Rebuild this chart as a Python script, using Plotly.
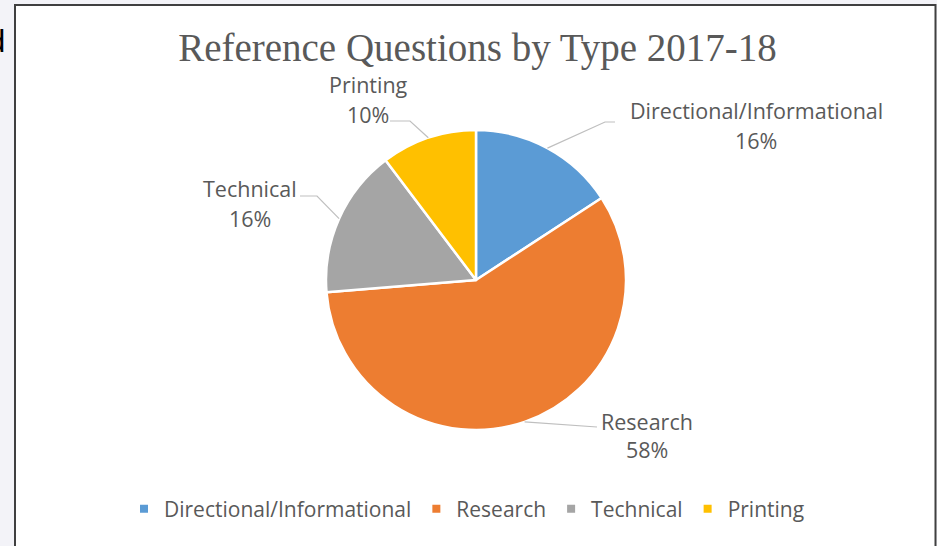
import math
import plotly.graph_objects as go

# ---- data ----
categories = ["Directional/Informational", "Research", "Technical", "Printing"]
values = [15.8, 57.9, 16.0, 10.3]
colors = ["#5B9BD5", "#ED7D31", "#A5A5A5", "#FFC000"]
title_text = "Reference Questions by Type 2017-18"

# ---- layout (pixels) ----
W, H = 937, 546
PIE_CX, PIE_CY, PIE_R = 476, 280, 150
# centre of the (name, percent) label lines
LABEL_POS = {
    "Directional/Informational": ((756, 111), (756, 141)),
    "Research": ((647, 421), (647, 449)),
    "Technical": ((250, 188), (250, 218)),
    "Printing": ((368, 84), (368, 114)),
}
# leader: elbow point, then end point next to the label
LEADER = {
    "Directional/Informational": ((605, 122), (615, 122)),
    "Research": ((597, 427), (597, 427)),
    "Technical": ((317, 196), (300, 196)),
    "Printing": ((410, 121), (390, 121)),
}
TEXT_COLOR = "#595959"
FONT = "Open Sans"
BG = "#f3f3f8"


def px(x):
    return x / W


def py(y):
    return 1 - y / H


fig = go.Figure()
fig.add_trace(go.Pie(
    labels=categories,
    values=values,
    sort=False,
    direction="clockwise",
    rotation=0,
    marker=dict(colors=colors, line=dict(color="white", width=2.5)),
    textinfo="none",
    hoverinfo="label+percent",
    showlegend=False,
    domain=dict(x=[px(PIE_CX - PIE_R), px(PIE_CX + PIE_R)],
                y=[py(PIE_CY + PIE_R), py(PIE_CY - PIE_R)]),
))

# legend entries (small square markers like the original)
for cat, col in zip(categories, colors):
    fig.add_trace(go.Scatter(
        x=[None], y=[None], mode="markers", name=cat,
        marker=dict(symbol="square", size=8, color=col),
        hoverinfo="skip",
    ))

total = sum(values)
shapes = [
    dict(type="rect", xref="paper", yref="paper",
         x0=px(15), x1=px(935.5), y0=py(560), y1=py(5),
         line=dict(color="#404040", width=2), fillcolor="white", layer="below"),
]
annotations = []
cum = 0.0
for cat, v in zip(categories, values):
    theta = (cum + v / 2) / total * 2 * math.pi
    cum += v
    ax = PIE_CX + PIE_R * math.sin(theta)
    ay = PIE_CY - PIE_R * math.cos(theta)
    (ex, ey), (tx, ty) = LEADER[cat]
    shapes.append(dict(
        type="path", xref="paper", yref="paper",
        path=f"M {px(ax)} {py(ay)} L {px(ex)} {py(ey)} L {px(tx)} {py(ty)}",
        line=dict(color="#bfbfbf", width=1.2), layer="above",
    ))
    (nx, ny), (qx, qy) = LABEL_POS[cat]
    pct = round(v / total * 100)
    for txt, (x, y) in ((cat, (nx, ny)), (f"{pct}%", (qx, qy))):
        annotations.append(dict(
            xref="paper", yref="paper", x=px(x), y=py(y),
            text=txt, showarrow=False, align="center",
            xanchor="center", yanchor="middle",
            font=dict(family=FONT, size=21.5, color=TEXT_COLOR),
        ))

# fragment of surrounding page text at the far left
annotations.append(dict(
    xref="paper", yref="paper", x=px(7), y=py(42), text="d",
    showarrow=False, xanchor="right", yanchor="middle",
    font=dict(family="Liberation Sans", size=31, color="#000000"),
))

fig.update_layout(
    width=W, height=H,
    margin=dict(l=0, r=0, t=0, b=0),
    paper_bgcolor=BG,
    plot_bgcolor="rgba(0,0,0,0)",
    xaxis=dict(visible=False),
    yaxis=dict(visible=False),
    title=dict(text=title_text, x=px(477.5), xanchor="center",
               y=py(47), yanchor="middle",
               font=dict(family="Liberation Serif", size=39, color=TEXT_COLOR)),
    showlegend=True,
    legend=dict(orientation="h", x=px(124), xanchor="left",
                y=py(509), yanchor="middle",
                font=dict(family=FONT, size=21, color=TEXT_COLOR),
                bgcolor="rgba(0,0,0,0)"),
    shapes=shapes,
    annotations=annotations,
)

fig.write_html(
    "out.html",
    config={"displayModeBar": False},
    post_script=(
        "document.body.style.margin='0';"
        "document.body.style.padding='0';"
        f"document.body.style.background='{BG}';"
    ),
)
